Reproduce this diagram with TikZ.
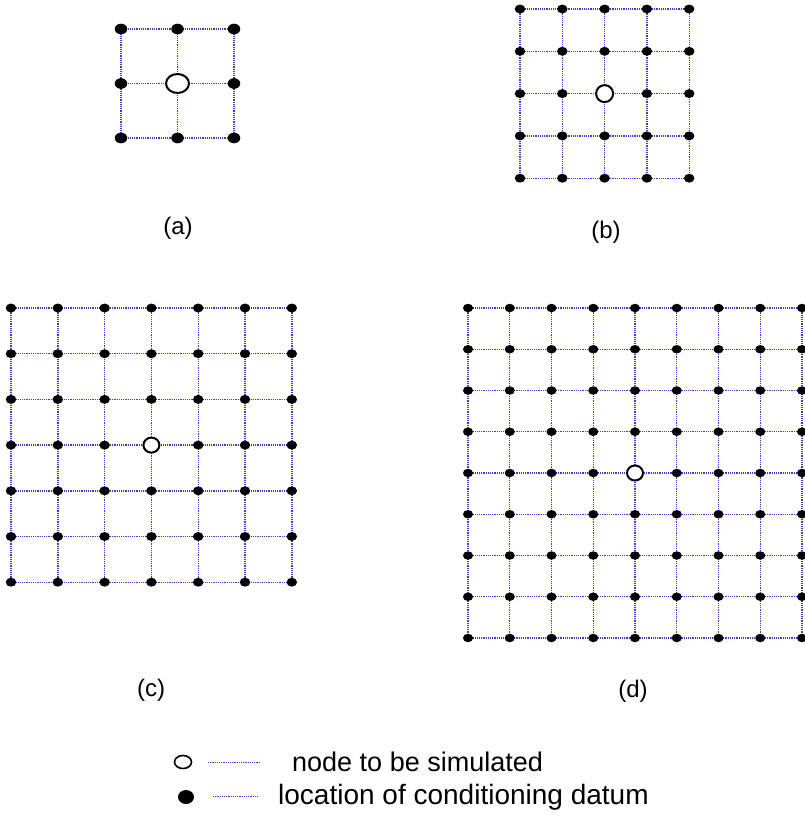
\documentclass[tikz,border=0pt]{standalone}
\usepackage{fontspec}
\setmainfont{Liberation Sans}
\usetikzlibrary{shapes.geometric}
\definecolor{gridblue}{RGB}{60,60,195}
\newcommand{\drawgrid}[9]{%
  \pgfmathtruncatemacro\gmax{#2-1}%
  \pgfmathtruncatemacro\gctr{(#2-1)/2}%
  \foreach \i in {0,...,\gmax}{\foreach \j in {0,...,\gmax}{%
    \coordinate (#1-\i-\j) at ({#3+\i*#4},{#5+\j*#6});}}%
  \foreach \i in {0,...,\gmax}{%
    \draw[gridline] (#1-\i-0) -- (#1-\i-\gmax);
    \draw[gridline] (#1-0-\i) -- (#1-\gmax-\i);}%
  \foreach \i in {0,...,\gmax}{\foreach \j in {0,...,\gmax}{%
    \pgfmathtruncatemacro\isc{and(\i==\gctr,\j==\gctr)}%
    \ifnum\isc=0
      \node[datum, minimum width=#7pt, minimum height={0.85*#7pt}] (#1d-\i-\j) at (#1-\i-\j) {};
    \fi}}%
  \node[simnode, minimum width=#8pt, minimum height=#9pt] (#1sim) at (#1-\gctr-\gctr) {};
}
\begin{document}
\begin{tikzpicture}[x=1pt,y=-1pt,
  gridline/.style={draw=gridblue, line width=1.4pt, dash pattern=on 1.1pt off 1.1pt},
  datum/.style={shape=ellipse, fill=black, inner sep=0pt},
  simnode/.style={shape=ellipse, draw=black, fill=white, line width=2pt, inner sep=0pt},
  lab/.style={font=\fontsize{24}{28}\selectfont, inner sep=0pt},
  legtext/.style={font=\fontsize{27}{32}\selectfont, inner sep=0pt, anchor=west}]
\useasboundingbox (0,0) rectangle (805,820);
% (a)
\drawgrid{a}{3}{121}{56.5}{29}{54.5}{12.5}{23}{19}
% (b)
\drawgrid{b}{5}{520}{42.3}{9}{42.3}{10.5}{17}{17}
% (c)
\drawgrid{c}{7}{11}{46.8}{308}{45.7}{10.5}{16}{15}
% (d)
\drawgrid{d}{9}{468}{41.75}{308}{41.25}{10}{16}{15}
% labels
\node[lab] (la) at (178,228) {(a)};
\node[lab] (lb) at (606,232) {(b)};
\node[lab] (lc) at (151,690) {(c)};
\node[lab] (ld) at (633,691) {(d)};
% legend
\node[simnode, line width=1.6pt, minimum width=17pt, minimum height=13pt] (legsim) at (183,762) {};
\coordinate (l1a) at (208,762);
\coordinate (l1b) at (260,762);
\draw[gridline, line width=0.9pt] (l1a) -- (l1b);
\node[legtext] (t1) at (292,762) {node to be simulated};
\node[datum, minimum width=16pt, minimum height=14pt] (legdat) at (186,797) {};
\coordinate (l2a) at (213,796);
\coordinate (l2b) at (258,796);
\draw[gridline, line width=0.9pt] (l2a) -- (l2b);
\node[legtext, font=\fontsize{28}{32}\selectfont] (t2) at (278,797) {location of conditioning datum};
\end{tikzpicture}
\end{document}
